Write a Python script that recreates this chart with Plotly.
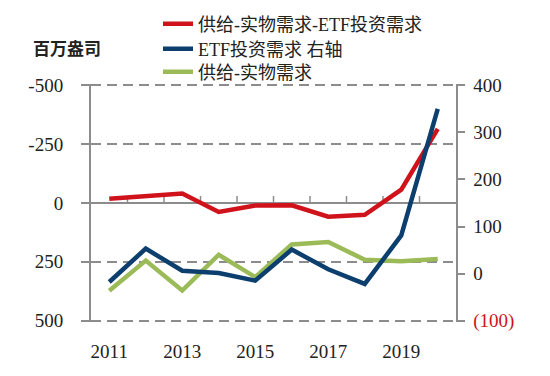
import plotly.graph_objects as go

years = ["2011", "2012", "2013", "2014", "2015", "2016", "2017", "2018", "2019", "2020"]
red_vals = [-18, -28, -40, 38, 11, 10, 58, 50, -57, -315]      # 供给-实物需求-ETF投资需求 (left, reversed)
blue_vals = [-18, 53, 6, 1, -15, 51, 9, -22, 81, 350]           # ETF投资需求 (right axis)
green_vals = [373, 245, 372, 220, 315, 176, 166, 241, 248, 238]  # 供给-实物需求 (left, reversed)

left_ticks = [-500, -250, 0, 250, 500]
left_ticktext = ["-500", "-250", "0", "250", "500"]
right_ticks = [400, 300, 200, 100, 0, -100]
right_ticktext = ["400", "300", "200", "100", "0", "<span style='color:#d0121b'>(100)</span>"]
xlabel_years = ["2011", "2013", "2015", "2017", "2019"]

RED = "#d0121b"
BLUE = "#0c3f6e"
GREEN = "#9bbb59"
GRAY = "#8c8c8c"
FONT = "Liberation Serif, Noto Sans CJK SC, serif"
NB = "\u00a0"

L, R, T, B = 91, 94, 84, 54
W, H = 550, 376
PW, PH = W - L - R, H - T - B
LEFT_RANGE = [506, -506]
RIGHT_RANGE = [-103, 403]

def px_x(x):
    return (x - L) / PW

def px_y(y):
    return (H - B - y) / PH

xpos = list(range(len(years)))
xlabel_pos = [years.index(y) for y in xlabel_years]

# category-boundary tick marks above the zero line (7 px tall)
tick_units = 7 * (LEFT_RANGE[0] - LEFT_RANGE[1]) / PH
tick_x, tick_y = [], []
for i in range(len(years) - 1):
    tick_x += [i + 0.5, i + 0.5, None]
    tick_y += [0, -tick_units, None]

fig = go.Figure()
fig.add_trace(go.Scatter(x=tick_x, y=tick_y, mode="lines", line=dict(color=GRAY, width=1.5),
                         showlegend=False, hoverinfo="skip", yaxis="y"))
fig.add_trace(go.Scatter(x=xpos, y=red_vals, name="供给-实物需求-ETF投资需求",
                         mode="lines", line=dict(color=RED, width=4.5), yaxis="y", legend="legend"))
fig.add_trace(go.Scatter(x=xpos, y=blue_vals, name="ETF投资需求 右轴",
                         mode="lines", line=dict(color=BLUE, width=4.5), yaxis="y2", legend="legend2"))
fig.add_trace(go.Scatter(x=xpos, y=green_vals, name="供给-实物需求",
                         mode="lines", line=dict(color=GREEN, width=4.5), yaxis="y", legend="legend3"))

def leg(ycenter):
    return dict(x=px_x(158), xanchor="left", y=px_y(ycenter), yanchor="middle",
                font=dict(family=FONT, size=18, color="#222222"),
                itemwidth=30, bgcolor="rgba(0,0,0,0)")

fig.update_layout(
    width=W, height=H,
    margin=dict(l=L, r=R, t=T, b=B, autoexpand=False),
    paper_bgcolor="white", plot_bgcolor="white",
    font=dict(family=FONT, size=18, color="#222222"),
    showlegend=True, hovermode=False,
    legend=leg(24), legend2=leg(49), legend3=leg(72),
    xaxis=dict(type="linear", range=[-0.5, len(years) - 0.5], showgrid=False, showline=False,
               ticks="", tickmode="array", tickvals=xlabel_pos, ticktext=xlabel_years,
               tickfont=dict(size=19), ticklabelstandoff=16, zeroline=False),
    yaxis=dict(range=LEFT_RANGE, tickmode="array", tickvals=left_ticks,
               ticktext=[t + NB * 3 for t in left_ticktext],
               showgrid=True, gridcolor=GRAY, gridwidth=1.5, griddash="10px,6px",
               zeroline=True, zerolinecolor=GRAY, zerolinewidth=1.5,
               showline=True, linecolor=GRAY, linewidth=1.5,
               ticks="outside", ticklen=8, tickwidth=1.5, tickcolor=GRAY,
               tickfont=dict(size=19)),
    yaxis2=dict(range=RIGHT_RANGE, overlaying="y", side="right", tickmode="array",
                tickvals=right_ticks, ticktext=[NB + t for t in right_ticktext],
                showgrid=False, zeroline=False,
                showline=True, linecolor=GRAY, linewidth=1.5,
                ticks="outside", ticklen=7, tickwidth=1.5, tickcolor=GRAY,
                tickfont=dict(size=19)),
    annotations=[dict(text="<b>百万盎司</b>", x=px_x(31), xref="paper", y=px_y(49), yref="paper",
                      showarrow=False, xanchor="left", yanchor="middle",
                      font=dict(family=FONT, size=17, color="#222222"))],
)

fig.write_html("out.html", config={"displayModeBar": False},
               post_script="document.body.style.margin='0';")
